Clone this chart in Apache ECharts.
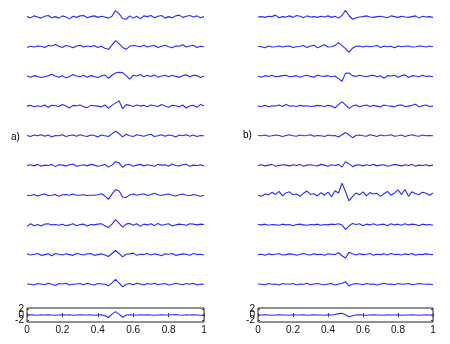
<!DOCTYPE html>
<html><head><meta charset="utf-8">
<script src="https://cdn.jsdelivr.net/npm/echarts@6/dist/echarts.min.js"></script>
<style>html,body{margin:0;padding:0;background:#fff}#c{width:450px;height:344px}</style>
</head><body><div id="c"></div>
<script>
// x-axis tick labels of the bottom panels
const xTicks = [0, 0.2, 0.4, 0.6, 0.8, 1];
const yTicks = [-2, 0, 2];
const panelLabels = ['a)', 'b)'];

// column a) traces (top to bottom)
const a1 = [0.1,-0.2,0.3,0.0,-0.3,0.2,0.4,-0.2,0.1,-0.3,0.3,0.0,-0.5,0.2,-0.1,0.3,0.4,-0.2,0.1,0.3,-0.1,0.2,0.0,-0.3,0.2,1.7,0.9,-0.4,-0.6,0.3,-0.3,0.2,-0.5,0.3,0.1,0.4,-0.2,0.2,0.4,-0.3,0.1,-0.2,0.3,0.5,-0.1,0.2,0.4,0.0,0.3,-0.2,0.1];
const a2 = [-0.2,0.1,-0.1,0.2,0.1,-0.2,0.3,0.2,0.6,0.1,-0.2,0.3,0.1,-0.3,0.2,0.4,-0.1,0.2,0.0,0.3,-0.2,0.1,-0.4,-0.7,0.4,1.6,0.8,-0.2,-0.7,0.1,0.3,0.2,0.0,0.4,-0.1,0.2,0.3,-0.2,0.1,0.4,0.0,-0.3,0.2,0.1,0.5,-0.1,0.2,0.4,-0.2,0.1,0.0];
const a3 = [0.1,-0.2,0.2,0.0,-0.3,-0.1,0.2,0.6,0.1,-0.2,0.2,-0.4,0.0,0.5,0.1,-0.1,0.3,-0.2,0.2,0.0,-0.3,0.1,0.4,-0.5,0.3,0.9,1.1,1.0,0.2,-0.7,0.3,0.1,0.5,-0.1,0.3,0.0,0.4,-0.2,0.1,0.3,-0.1,0.3,0.0,-0.2,0.2,0.4,-0.1,0.3,0.2,-0.3,0.1];
const a4 = [0.0,0.2,-0.2,0.1,-0.1,0.3,-0.3,0.2,0.1,-0.1,0.4,0.0,-0.5,0.2,0.1,0.3,-0.2,-0.4,0.2,0.1,0.0,-0.2,0.3,-0.6,0.2,0.8,1.4,-0.7,0.4,0.2,-0.1,0.3,0.0,0.2,-0.2,0.3,0.1,-0.1,0.4,0.0,-0.3,0.2,0.1,-0.2,0.3,-0.5,0.1,0.2,-0.3,0.4,0.1];
const a5 = [0.1,-0.2,0.2,0.0,0.3,-0.1,0.2,-0.3,0.1,0.0,0.3,-0.2,0.1,0.2,-0.1,0.3,0.0,-0.2,0.2,0.1,-0.3,0.2,0.0,-0.2,0.5,1.2,0.6,-0.3,0.4,0.0,-0.2,0.3,0.1,-0.1,0.2,0.4,-0.2,0.0,0.3,-0.1,0.2,0.1,-0.3,0.2,0.0,0.3,-0.1,0.2,-0.2,0.1,0.0];
const a6 = [0.0,0.2,-0.1,0.3,-0.2,0.1,0.0,0.3,-0.3,0.2,0.1,-0.1,0.2,0.4,-0.2,0.0,0.2,-0.1,0.3,0.1,-0.2,0.0,0.3,-0.4,0.1,1.0,0.7,-0.5,0.2,0.3,-0.2,0.1,0.3,-0.1,0.2,0.0,-0.2,0.3,0.1,0.2,-0.2,0.4,0.0,-0.1,0.2,0.3,-0.2,0.1,0.0,0.2,-0.1];
const a7 = [0.0,-0.1,0.2,-0.2,0.1,0.3,-0.1,0.0,0.2,-0.3,0.1,0.2,0.0,0.3,0.0,0.0,0.1,-0.1,0.0,0.0,0.1,0.4,-0.2,-1.1,0.3,1.5,1.1,-0.5,-0.6,0.1,0.3,0.0,0.2,0.4,-0.1,0.2,0.5,0.1,-0.1,0.2,0.3,0.0,-0.2,0.1,0.3,0.0,-0.1,0.2,0.0,-0.3,0.0];
const a8 = [-0.4,0.3,-0.2,0.1,-0.3,0.2,0.3,0.0,0.1,-0.1,0.2,-0.2,0.0,0.3,-0.2,0.1,0.2,-0.3,0.1,0.0,0.2,0.3,-0.2,-0.7,0.2,1.4,0.5,-0.6,0.2,0.4,-0.1,0.3,-0.4,0.2,0.0,0.3,-0.2,0.4,-0.1,0.1,0.3,-0.3,0.0,0.2,0.1,-0.1,0.3,0.2,0.0,0.2,0.1];
const a9 = [0.2,-0.1,0.1,0.3,-0.2,0.0,0.2,-0.3,0.3,0.1,-0.1,0.2,0.0,-0.2,0.3,0.1,-0.1,0.2,0.3,-0.2,0.0,0.2,-0.1,-0.5,0.3,1.1,0.3,-0.6,0.1,0.2,0.4,-0.2,0.1,0.0,0.3,-0.1,0.2,0.0,-0.3,0.2,0.1,0.3,-0.2,0.0,0.2,0.1,-0.2,0.3,0.0,0.1,-0.1];
const a10 = [0.1,0.0,-0.2,0.2,0.1,-0.1,0.3,0.0,-0.3,0.2,0.1,0.3,-0.2,0.0,0.1,0.2,-0.1,0.3,0.0,-0.2,0.2,0.1,0.0,-0.4,0.4,1.3,0.4,-0.7,0.0,0.2,-0.1,0.3,0.1,-0.2,0.2,0.0,0.3,-0.1,0.1,0.2,-0.2,0.0,0.3,0.1,-0.1,0.2,0.0,0.3,-0.2,0.1,0.0];
const aBottom = [0.0,0.1,0.0,-0.1,0.1,0.0,0.1,0.0,-0.1,0.0,0.1,0.0,0.1,-0.1,0.0,0.1,0.0,0.0,0.1,-0.1,0.0,0.1,-0.3,-0.9,0.3,1.2,0.3,-0.8,0.0,0.1,0.0,-0.1,0.1,0.0,0.1,0.0,-0.1,0.0,0.1,0.0,0.0,0.1,0.2,0.0,-0.1,0.1,0.0,0.1,0.0,-0.1,0.0];

// column b) traces (top to bottom)
const b1 = [0.0,0.1,-0.1,0.2,0.1,0.5,-0.2,0.1,0.0,0.3,-0.1,0.4,0.2,-0.2,0.3,0.0,0.1,-0.1,0.2,0.0,0.3,-0.1,0.2,-0.3,0.4,1.8,0.4,-0.6,-0.2,0.0,0.1,0.3,0.0,-0.1,0.1,0.2,0.0,-0.2,0.3,0.1,-0.1,0.2,0.0,-0.1,0.1,0.3,-0.3,0.2,0.0,0.1,-0.1];
const b2 = [0.1,0.0,-0.3,0.2,-0.1,0.0,0.2,-0.1,0.1,0.2,-0.2,0.0,0.1,0.3,-0.2,0.2,0.4,-0.3,0.1,0.5,-0.1,0.0,0.3,1.1,0.3,-0.5,-1.5,-0.4,0.1,0.2,-0.1,0.2,0.0,0.1,0.3,-0.2,0.2,0.0,0.1,-0.3,0.2,0.0,0.1,0.2,-0.1,0.0,0.2,0.1,-0.1,0.2,0.0];
const b3 = [0.1,-0.2,0.2,0.0,0.3,-0.1,0.0,0.2,0.3,-0.1,0.0,0.2,-0.2,0.1,0.3,0.0,-0.2,0.3,0.1,0.0,0.2,-0.1,0.1,-0.6,-1.3,0.8,0.9,0.2,0.0,0.3,0.1,-0.1,0.2,0.3,-0.1,0.2,-0.5,0.2,0.1,0.3,-0.2,0.2,0.4,-0.3,0.2,0.1,-0.1,0.3,0.0,0.1,-0.1];
const b4 = [0.0,-0.1,0.2,-0.2,0.1,0.0,0.3,-0.1,0.4,0.0,0.1,-0.1,0.2,0.0,0.1,-0.1,0.0,0.2,0.1,-0.1,0.2,0.0,-0.5,0.4,1.2,0.3,-0.6,0.0,0.3,-0.2,0.1,0.3,-0.1,0.2,0.0,-0.2,0.3,0.1,0.0,-0.2,0.2,0.3,-0.1,0.0,0.2,0.5,-0.2,0.1,0.3,-0.1,0.0];
const b5 = [0.1,0.0,0.2,-0.1,0.0,0.2,0.1,-0.2,0.1,0.3,0.0,-0.1,0.2,0.0,0.1,0.3,-0.1,0.1,0.0,-0.2,0.2,0.0,0.1,-0.3,0.3,0.9,0.2,-0.5,0.1,0.2,0.0,-0.1,0.3,0.1,-0.2,0.2,0.0,0.1,0.3,-0.1,0.0,0.2,-0.2,0.1,0.3,0.0,-0.1,0.2,0.0,0.1,0.0];
const b6 = [0.0,0.2,-0.1,0.1,0.3,-0.2,0.0,0.2,0.1,-0.1,0.2,0.0,0.3,-0.2,0.1,0.2,0.0,-0.1,0.3,0.1,-0.2,0.2,0.0,0.3,-0.4,1.0,0.5,-0.3,0.1,0.2,-0.1,0.2,0.0,0.3,-0.1,0.1,0.2,-0.2,0.0,0.3,0.1,-0.1,0.2,0.0,0.3,-0.2,0.1,0.0,0.2,-0.1,0.1];
const b7 = [0.0,-0.3,0.3,0.1,0.8,0.2,1.0,-0.2,0.6,0.9,0.1,0.3,-0.3,0.5,1.1,0.2,0.4,-0.2,0.7,0.0,0.8,-0.4,1.2,0.6,3.2,1.0,-1.5,-0.4,0.6,0.1,0.9,-0.2,0.7,0.3,0.5,-0.3,0.4,1.0,0.0,0.6,1.4,0.2,1.5,-0.3,0.9,0.4,0.2,0.8,0.5,0.0,0.6];
const b8 = [0.1,0.0,0.2,-0.1,0.1,0.0,-0.1,0.2,0.0,0.1,-0.2,0.1,0.2,0.0,-0.1,0.1,0.0,0.2,-0.1,0.1,0.0,0.2,0.1,0.3,0.0,-1.2,-0.3,0.4,0.1,0.3,-0.2,0.2,0.0,0.3,-0.1,0.1,0.2,-0.2,0.3,0.0,0.2,-0.1,0.3,0.0,0.2,0.1,-0.2,0.2,0.0,0.1,-0.1];
const b9 = [0.0,0.1,-0.2,0.2,0.0,0.1,0.3,-0.1,0.0,0.2,0.1,-0.2,0.1,0.3,0.0,-0.1,0.2,0.0,0.1,-0.2,0.2,0.1,0.0,0.5,-0.3,-0.9,0.6,0.2,-0.1,0.2,0.0,0.1,0.3,-0.2,0.1,0.0,0.2,-0.1,0.3,0.0,0.1,-0.1,0.2,0.0,0.3,-0.2,0.1,0.0,0.2,0.1,0.0];
const b10 = [0.1,0.0,-0.1,0.2,0.0,0.1,-0.2,0.2,0.1,0.0,0.2,-0.1,0.1,0.0,0.3,-0.1,0.1,0.2,0.0,-0.1,0.1,0.2,-0.2,0.1,0.3,0.7,-0.4,0.0,0.2,0.1,-0.1,0.2,0.0,0.1,-0.2,0.1,0.3,0.0,0.1,-0.1,0.2,0.0,0.1,0.2,-0.1,0.0,0.2,0.1,0.0,0.1,-0.1];
const bBottom = [0.0,0.0,0.1,0.0,-0.1,0.0,0.1,0.0,0.0,-0.1,0.1,0.0,0.0,0.1,-0.1,0.0,0.1,0.0,0.0,-0.1,0.1,0.0,0.2,0.5,0.6,0.1,-0.6,-0.3,0.0,0.1,0.0,-0.1,0.0,0.1,0.0,0.0,-0.1,0.1,0.0,0.0,0.1,-0.1,0.0,0.0,0.1,0.0,-0.1,0.0,0.1,0.0,0.0];

const colA = [a1,a2,a3,a4,a5,a6,a7,a8,a9,a10];
const colB = [b1,b2,b3,b4,b5,b6,b7,b8,b9,b10];

const chart = echarts.init(document.getElementById('c'), null, {renderer:'canvas'});
const FONT = 'Liberation Sans';
const LINE = '#2a2aff';
const grid = [], xAxis = [], yAxis = [], series = [];

function pairs(arr){ const n = arr.length; return arr.map((v,i)=>[i/(n-1), v]); }

const cols = [{left:27, width:177, data:colA, bottom:aBottom},
              {left:258, width:175, data:colB, bottom:bBottom}];
const centers = [17,46.7,76.4,106.1,135.8,165.5,195.2,224.9,254.6,284.3];

cols.forEach(col => {
  col.data.forEach((arr, r) => {
    const gi = grid.length;
    grid.push({left:col.left, width:col.width, top:centers[r]-15, height:30, show:false});
    xAxis.push({type:'value', gridIndex:gi, min:0, max:1, show:false});
    yAxis.push({type:'value', gridIndex:gi, min:-4, max:4, show:false});
    series.push({type:'line', xAxisIndex:xAxis.length-1, yAxisIndex:yAxis.length-1, data:pairs(arr),
      showSymbol:false, silent:true, animation:false, lineStyle:{color:LINE, width:1.1}});
  });
  // bottom boxed panel
  const gi = grid.length;
  grid.push({left:col.left, width:col.width, top:308, height:14, show:true, borderColor:'#222', borderWidth:1, backgroundColor:'#fff'});
  const axLine = {show:false};
  const tick = {show:true, inside:true, length:2, lineStyle:{color:'#444', width:1}};
  xAxis.push({type:'value', gridIndex:gi, min:0, max:1, interval:0.2, position:'bottom',
    axisLine:axLine, splitLine:{show:false}, axisTick:tick,
    axisLabel:{show:true, margin:3, fontSize:10, color:'#111', fontFamily:FONT, hideOverlap:false,
      formatter:v=> xTicks.includes(Math.round(v*10)/10) ? String(Math.round(v*10)/10) : ''}});
  const xi = xAxis.length-1;
  xAxis.push({type:'value', gridIndex:gi, min:0, max:1, interval:0.2, position:'top',
    axisLine:axLine, splitLine:{show:false}, axisLabel:{show:false}, axisTick:tick});
  // each y tick label gets its own axis so the tightly packed labels all stay visible
  let yi = -1;
  yTicks.forEach((t, k) => {
    yAxis.push({type:'value', gridIndex:gi, min:-2.5, max:2.5, position:'left',
      axisLine:axLine, splitLine:{show:false},
      axisTick:Object.assign({customValues:[t]}, tick),
      axisLabel:{show:true, margin:3, fontSize:10, color:'#111', fontFamily:FONT, customValues:[t],
        hideOverlap:false, showMinLabel:true, showMaxLabel:true}});
    if (k === 0) yi = yAxis.length-1;
  });
  yAxis.push({type:'value', gridIndex:gi, min:-2.5, max:2.5, position:'right',
    axisLine:axLine, splitLine:{show:false}, axisLabel:{show:false},
    axisTick:Object.assign({customValues:yTicks}, tick)});
  series.push({type:'line', xAxisIndex:xi, yAxisIndex:yi, data:pairs(col.bottom),
    showSymbol:false, silent:true, animation:false, lineStyle:{color:LINE, width:1.1}});
});

chart.setOption({
  animation:false,
  backgroundColor:'#fff',
  grid, xAxis, yAxis, series,
  graphic:[
    {type:'text', left:11, top:132, style:{text:panelLabels[0], fontSize:10, fontFamily:FONT, fill:'#000'}},
    {type:'text', left:243, top:130, style:{text:panelLabels[1], fontSize:10, fontFamily:FONT, fill:'#000'}}
  ]
});
</script></body></html>
